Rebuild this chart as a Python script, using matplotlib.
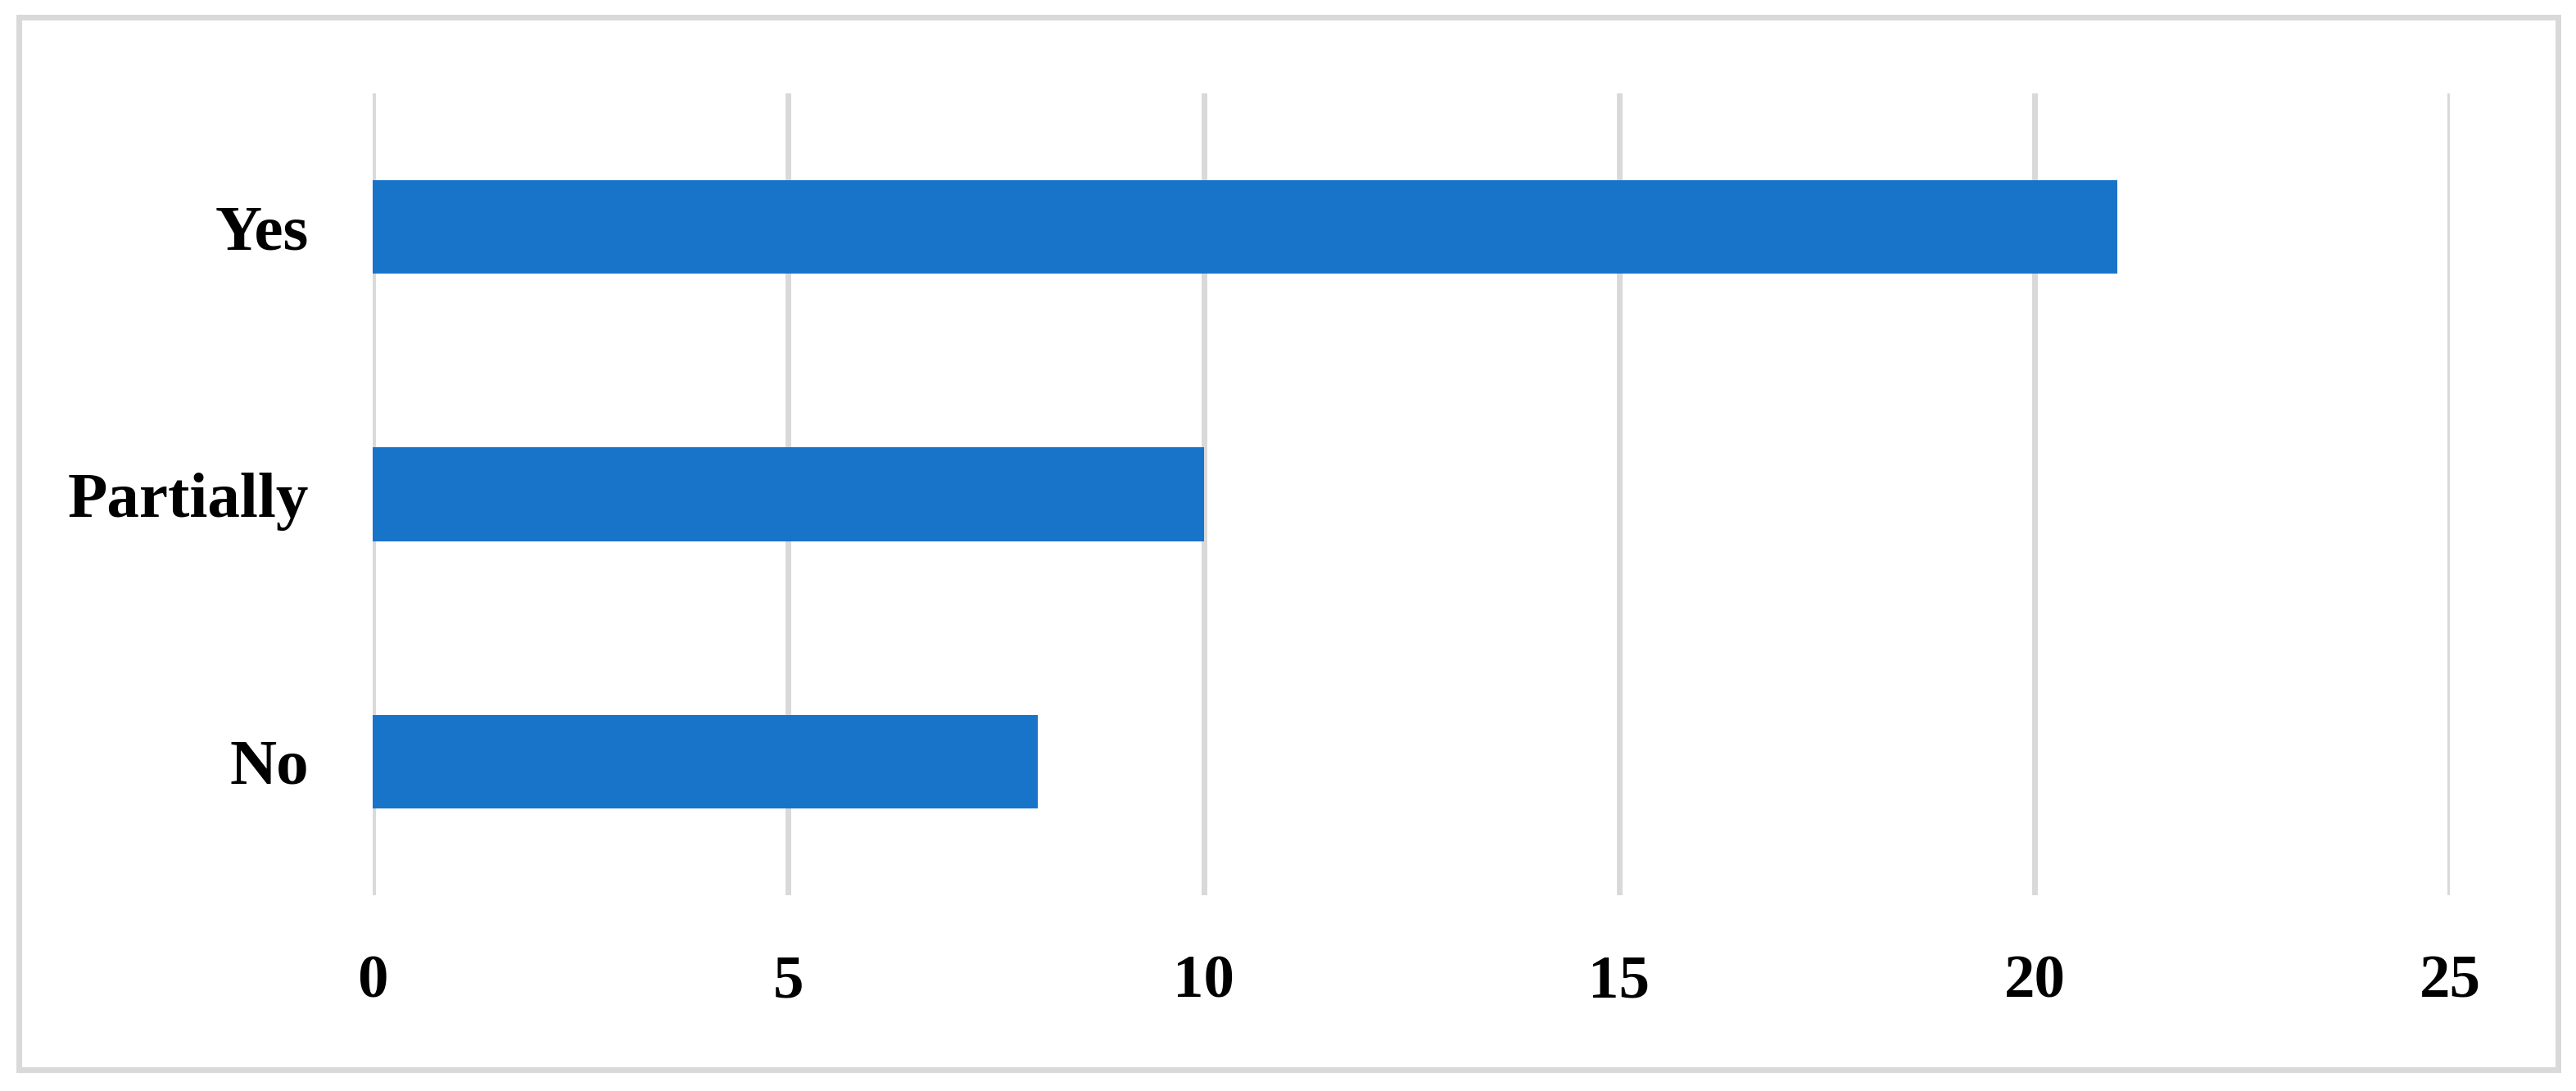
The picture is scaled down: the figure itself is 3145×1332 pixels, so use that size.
import matplotlib
matplotlib.use('Agg')
import matplotlib.pyplot as plt
from matplotlib.patches import Rectangle

categories = ['No', 'Partially', 'Yes']
counts = [8, 10, 21]
xticks = [0, 5, 10, 15, 20, 25]

plt.rcParams['font.family'] = ['Liberation Serif', 'DejaVu Serif']

fig = plt.figure(figsize=(31.45, 13.32), dpi=100)
ax = fig.add_axes([0.1447, 0.1794, 0.8064, 0.735])

ax.barh(range(len(categories)), counts, height=0.35, color='#1874c9', zorder=3)

ax.set_xlim(0, 25)
ax.set_ylim(-0.5, len(categories) - 0.5)
ax.set_xticks(xticks)
ax.set_xticklabels([str(t) for t in xticks], fontsize=54, fontweight='bold')
ax.set_yticks(range(len(categories)))
ax.set_yticklabels(categories, fontsize=57, fontweight='bold')
ax.tick_params(axis='both', length=0)
ax.tick_params(axis='x', pad=52)
ax.tick_params(axis='y', pad=56)
ax.grid(axis='x', color='#d9d9d9', linewidth=5, zorder=0)
ax.set_axisbelow(True)
for s in ax.spines.values():
    s.set_visible(False)

# outer chart border
fig.patches.append(Rectangle((23 / 3145, 1 - 1306 / 1332), 3100 / 3145, 1285 / 1332,
                             transform=fig.transFigure, fill=False,
                             edgecolor='#d9d9d9', linewidth=5))

fig.savefig('out.png', dpi=100)
